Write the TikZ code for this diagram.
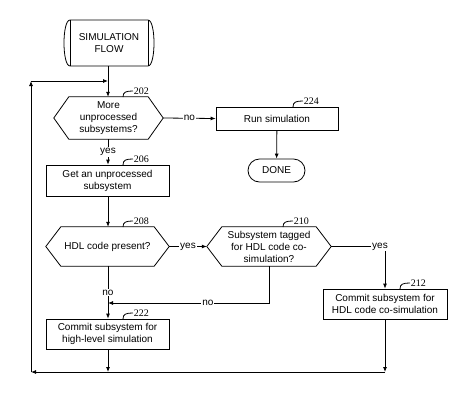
\documentclass[tikz,border=0pt]{standalone}
\usepackage{fontspec}
\setmainfont{Liberation Sans}
\newfontfamily\numfont{Liberation Serif}
\usetikzlibrary{arrows.meta,calc,shapes.misc}
\begin{document}
\begin{tikzpicture}[x=1pt,y=-1pt,
  every node/.style={font=\fontsize{10}{12}\selectfont, inner sep=1pt},
  line/.style={line width=0.8pt},
  arr/.style={line width=0.8pt, -{Latex[length=5pt,width=4pt]}},
  box/.style={draw, line width=0.8pt, rectangle, align=center, inner sep=2pt},
  hexbox/.style={align=center, inner sep=0pt},
  lab/.style={fill=white, inner sep=1pt},
  refnum/.style={font=\numfont\fontsize{10}{12}\selectfont, anchor=west, inner sep=0.5pt}
]
\useasboundingbox (0,0) rectangle (474,405);

% start terminator
\node[align=center, minimum width=78pt, minimum height=46pt] (start) at (109,43) {SIMULATION\\FLOW};
\draw[line] (70,20) -- (148,20) .. controls (156,20) and (156,66) .. (148,66) -- (70,66) .. controls (62,66) and (62,20) .. (70,20);
\draw[line] (70,20) -- (70,66) (148,20) -- (148,66);

% 202 hexagon
\node[hexbox, minimum width=109pt, minimum height=42pt] (d202) at (108.5,118) {More\\unprocessed\\subsystems?};
\draw[line] (d202.west) -- ([xshift=15pt]d202.north west) -- ([xshift=-15pt]d202.north east) -- (d202.east) -- ([xshift=-15pt]d202.south east) -- ([xshift=15pt]d202.south west) -- cycle;

% 224 run simulation
\node[box, minimum width=122pt, minimum height=23pt] (b224) at (277,118.5) {Run simulation};
% done
\node[draw, line width=0.8pt, rounded rectangle, minimum width=61pt, minimum height=23pt, inner sep=2pt] (done) at (276.5,170.5) {DONE};

% 206
\node[box, minimum width=123pt, minimum height=31pt] (b206) at (107.5,180.5) {Get an unprocessed\\subsystem};

% 208 hexagon
\node[hexbox, minimum width=123pt, minimum height=39pt] (d208) at (107.5,246.5) {HDL code present?};
\draw[line] (d208.west) -- ([xshift=15pt]d208.north west) -- ([xshift=-15pt]d208.north east) -- (d208.east) -- ([xshift=-15pt]d208.south east) -- ([xshift=15pt]d208.south west) -- cycle;

% 210 hexagon
\node[hexbox, minimum width=124pt, minimum height=39pt] (d210) at (269,246.5) {Subsystem tagged\\for HDL code co-\\simulation?};
\draw[line] (d210.west) -- ([xshift=15pt]d210.north west) -- ([xshift=-15pt]d210.north east) -- (d210.east) -- ([xshift=-15pt]d210.south east) -- ([xshift=15pt]d210.south west) -- cycle;

% 212
\node[box, minimum width=124pt, minimum height=30pt] (b212) at (385,304) {Commit subsystem for\\HDL code co-simulation};

% 222
\node[box, minimum width=123pt, minimum height=30pt] (b222) at (107.5,334) {Commit subsystem for\\high-level simulation};

% coordinates
\coordinate (c3) at (108,81);
\coordinate (c2) at (31,81);
\coordinate (c1) at (31,372);
\coordinate (b1) at (385,372);
\coordinate (b2) at (108,372);
\coordinate (j1) at (108,303);

% connectors
\draw[arr] (start.south -| c3) -- (d202.north -| c3);
\draw[arr] (d202.east) -- node[lab] {no} (b224.west);
\draw[arr] (b224) -- (done);
\draw[arr] (d202.south -| c3) -- node[lab] {yes} (b206.north -| c3);
\draw[arr] (b206.south -| c3) -- (d208.north -| c3);
\draw[arr] (d208.east) -- node[lab] {yes} (d210.west);
\draw[arr] (d210.east) -| node[lab, pos=0.5, xshift=-5pt] {yes} (b212.north);
\draw[arr] (d208.south -| c3) -- node[lab] {no} (b222.north -| c3);
\draw[arr] (d210.south) |- node[lab, pos=0.69] {no} (j1);
\draw[arr] (b222.south -| b2) -- (b2);
\draw[arr] (b212.south) -- (b1);
\draw[arr] (b1) -- (c1);
\draw[arr] (c1) -- (c2);
\draw[arr] (c2) -- (c3);

% reference numerals
\draw[line] (123,97) .. controls (123,92) and (126,91) .. (133,91) node[refnum] (n202) {202};
\draw[line] (293,107) .. controls (293,102) and (296,101) .. (303,101) node[refnum] (n224) {224};
\draw[line] (123,165) .. controls (123,160) and (126,159) .. (133,159) node[refnum] (n206) {206};
\draw[line] (123,227) .. controls (123,222) and (126,221) .. (133,221) node[refnum] (n208) {208};
\draw[line] (283,227) .. controls (283,222) and (286,221) .. (293,221) node[refnum] (n210) {210};
\draw[line] (400,289) .. controls (400,284) and (403,283) .. (410,283) node[refnum] (n212) {212};
\draw[line] (123,319) .. controls (123,314) and (126,313) .. (133,313) node[refnum] (n222) {222};
\end{tikzpicture}
\end{document}
